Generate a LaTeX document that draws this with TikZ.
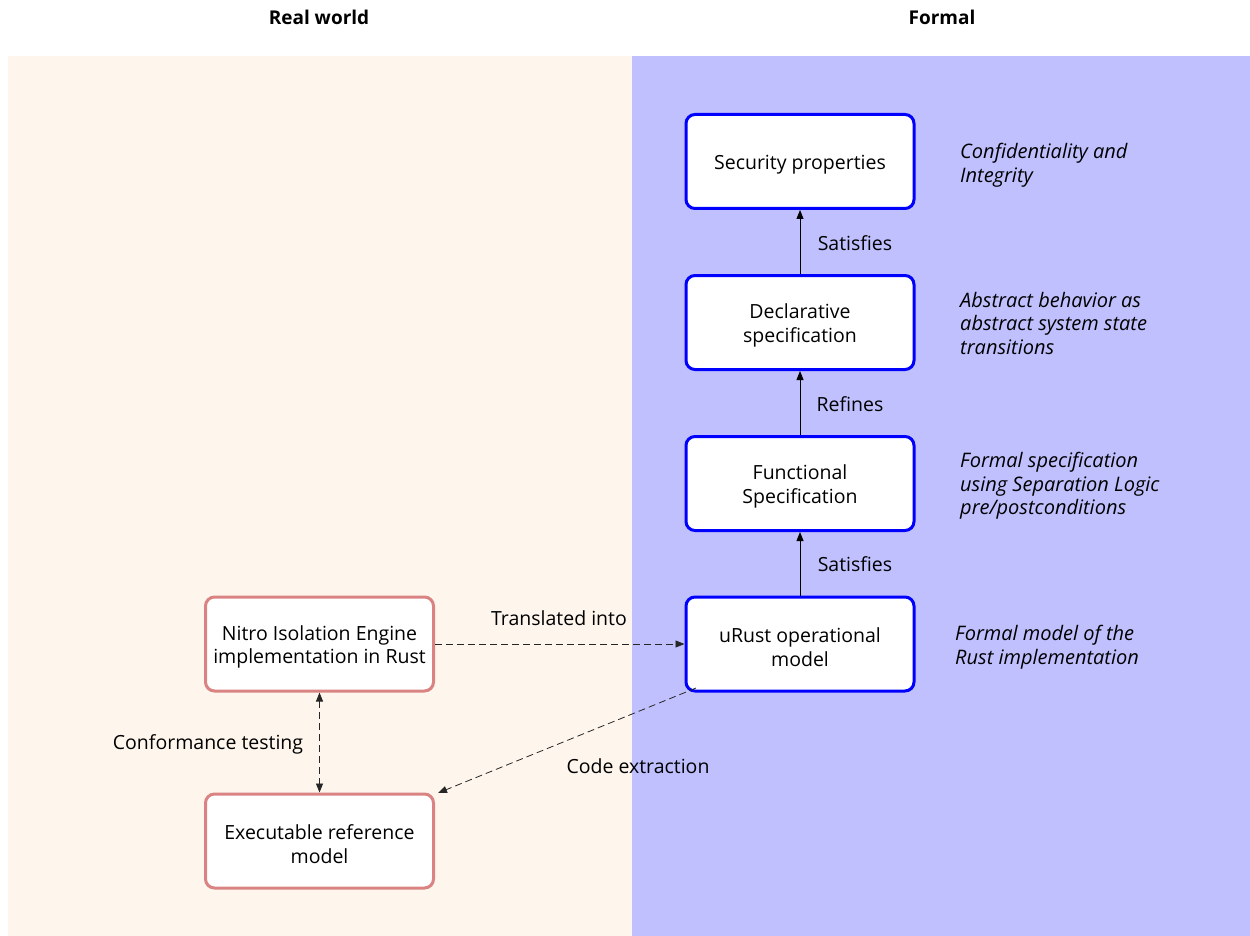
\documentclass[tikz,border=0pt]{standalone}
\usepackage{fontspec}
\setmainfont{Open Sans}
\usetikzlibrary{arrows.meta}
\definecolor{beige}{HTML}{FEF6EC}
\definecolor{lav}{HTML}{C0C0FF}
\definecolor{fblue}{HTML}{0000FF}
\definecolor{rw}{HTML}{D98383}
\begin{document}
\begin{tikzpicture}[x=1pt,y=-1pt,
  fnt/.style={font=\fontsize{19.5}{23.5}\selectfont},
  fbox/.style={draw=fblue,line width=3pt,rounded corners=9pt,fill=white,minimum width=228pt,minimum height=94pt},
  rbox/.style={fbox,draw=rw},
  btxt/.style={label={[fnt,align=center,yshift=-3pt]center:#1}},
  note/.style={align=left,anchor=north west,inner sep=0pt,font=\fontsize{20}{23.5}\selectfont\itshape},
  lbl/.style={fnt,inner sep=0pt},
  arr/.style={line width=0.8pt,-{Triangle[length=9pt,width=7pt]}},
  darr/.style={line width=0.8pt,draw=black!85,dash pattern=on 7pt off 4pt,-{Triangle[length=9pt,width=7pt]}},
  ddarr/.style={line width=0.8pt,draw=black!85,dash pattern=on 7pt off 4pt,{Triangle[length=9pt,width=7pt]}-{Triangle[length=9pt,width=7pt]}}]
\useasboundingbox (0,0) rectangle (1250,936);
\fill[white] (0,0) rectangle (1250,936);
\fill[beige] (8,56) rectangle (632,936);
\fill[lav] (632,56) rectangle (1250,936);
\node[font=\fontsize{19}{22}\selectfont\bfseries] (hrw) at (319,17) {Real world};
\node[font=\fontsize{19}{22}\selectfont\bfseries] (hf) at (942,17) {Formal};
\node[fbox,btxt={Security properties}] (sec) at (800,161.5) {};
\node[fbox,btxt={Declarative\\specification}] (dec) at (800,322.5) {};
\node[fbox,btxt={Functional\\Specification}] (fun) at (800,483.5) {};
\node[fbox,btxt={uRust operational\\model}] (urm) at (800,644) {};
\node[rbox,btxt={Nitro Isolation Engine\\implementation in Rust}] (nie) at (319.5,644) {};
\node[rbox,btxt={Executable reference\\model}] (erm) at (319.5,841) {};
\draw[arr] (dec.north) -- (sec.south);
\draw[arr] (fun.north) -- (dec.south);
\draw[arr] (urm.north) -- (fun.south);
\node[lbl] (l1) at (855,243) {Satisfies};
\node[lbl] (l2) at (850,404) {Refines};
\node[lbl] (l3) at (855,564) {Satisfies};
\draw[darr] (nie.east) -- (urm.west);
\node[lbl] (l4) at (559,618) {Translated into};
\draw[ddarr] (nie.south) -- (erm.north);
\node[lbl] (l5) at (208,744) {Conformance testing};
\coordinate (ce1) at (696,688);
\coordinate (ce2) at (438,793);
\draw[darr] (ce1) -- (ce2);
\node[lbl] (l6) at (638,766) {Code extraction};
\node[note] (n1) at (960,143) {Confidentiality and\\Integrity};
\node[note] (n2) at (960,292) {Abstract behavior as\\abstract system state\\transitions};
\node[note] (n3) at (960,452) {Formal specification\\using Separation Logic\\pre/postconditions};
\node[note] (n4) at (955,625) {Formal model of the\\Rust implementation};
\end{tikzpicture}
\end{document}
